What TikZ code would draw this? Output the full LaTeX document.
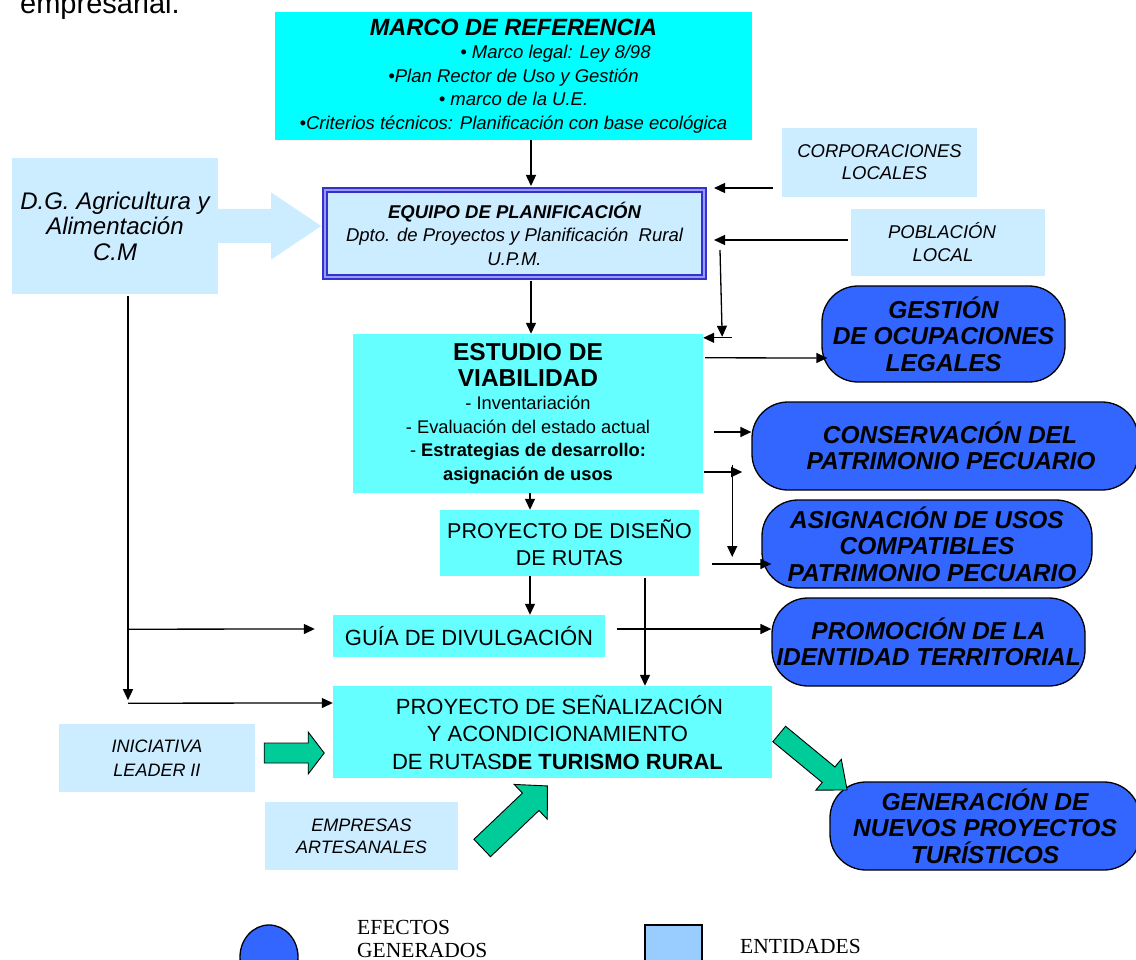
\documentclass[tikz,border=0pt]{standalone}
\usepackage{fontspec}
\setmainfont{Liberation Sans}
\newfontfamily\legfont{Liberation Serif}
\usetikzlibrary{arrows.meta,calc,shapes.geometric}

\definecolor{marcocyan}{HTML}{00FFFF}
\definecolor{procyan}{HTML}{66FFFF}
\definecolor{entblue}{HTML}{CCECFF}
\definecolor{efblue}{HTML}{3366FF}
\definecolor{frameblue}{HTML}{3333CC}
\definecolor{framelight}{HTML}{9999FF}
\definecolor{arrowgreen}{HTML}{00CC99}
\definecolor{legblue}{HTML}{99CCFF}

\tikzset{
    entidad/.style={fill=entblue, inner sep=0pt, align=center},
    proceso/.style={fill=procyan, inner sep=0pt, align=center},
    efecto/.style={draw=black, line width=1.3pt, fill=efblue, rounded corners=36pt,
        inner sep=0pt, align=center, font=\bfseries\itshape\fontsize{24.5}{26.5}\selectfont},
    flecha/.style={-{Triangle[length=11pt,width=10pt]}, line width=1.3pt},
    bloque/.style={fill=arrowgreen, draw=black, line width=0.9pt, line join=miter},
}

\begin{document}
\begin{tikzpicture}[x=1pt, y=-1pt]
    \useasboundingbox (0,0) rectangle (1136,960);
    \clip (0,0) rectangle (1136,960);

    % end of the text above
    \node[anchor=base west, inner sep=0pt, font=\fontsize{29}{34}\selectfont] (resto) at (20,14) {empresarial.};

    % boxes
    \node[proceso, fill=marcocyan, minimum width=477pt, minimum height=128pt,
        font=\itshape\fontsize{18.5}{23.5}\selectfont] (marco) at (513.5,76)
        {{\fontsize{23.5}{26}\selectfont\bfseries MARCO DE REFERENCIA}\\
         \hspace*{84pt}• Marco legal: Ley 8/98\\
         •Plan Rector de Uso y Gestión\\
         • marco de la U.E.\\
         •Criterios técnicos: Planificación con base ecológica};
    \node[entidad, draw=frameblue, double=framelight, double distance=2.5pt, line width=2pt,
        minimum width=379pt, minimum height=87pt,
        font=\itshape\fontsize{18.5}{23.5}\selectfont] (equipo) at (514.5,233.5)
        {{\bfseries EQUIPO DE PLANIFICACIÓN}\\
         Dpto. de Proyectos y Planificación\ \ Rural\\
         U.P.M.};
    \node[entidad, minimum width=206pt, minimum height=136pt,
        font=\itshape\fontsize{24}{25.5}\selectfont] (dg) at (115,226)
        {D.G. Agricultura y\\Alimentación\\C.M};
    \node[entidad, minimum width=195pt, minimum height=69pt,
        font=\itshape\fontsize{18.5}{22}\selectfont] (corp) at (879.5,162.5)
        {CORPORACIONES\\\hspace*{10pt}LOCALES};
    \node[entidad, minimum width=194pt, minimum height=67pt,
        font=\itshape\fontsize{18.5}{23}\selectfont] (pobl) at (948,242.5)
        {POBLACIÓN\hspace*{12pt}\\LOCAL\hspace*{10pt}};
    \node[proceso, minimum width=350pt, minimum height=159pt,
        font=\fontsize{18.3}{23.5}\selectfont] (estudio) at (528,413.5)
        {{\fontsize{24.5}{26}\selectfont\bfseries ESTUDIO DE}\\[2.5pt]
         {\fontsize{24.5}{26}\selectfont\bfseries VIABILIDAD}\\
         - Inventariación\\
         - Evaluación del estado actual\\
         - \textbf{Estrategias de desarrollo:}\\
         \textbf{asignación de usos}};
    \node[proceso, minimum width=259pt, minimum height=66pt,
        font=\fontsize{21.5}{27}\selectfont] (diseno) at (569.5,543)
        {PROYECTO DE DISEÑO\\DE RUTAS};
    \node[proceso, minimum width=272pt, minimum height=42pt,
        font=\fontsize{22}{24}\selectfont] (guia) at (469,636)
        {GUÍA DE DIVULGACIÓN};
    \node[proceso, minimum width=439pt, minimum height=92pt,
        font=\fontsize{22}{27.5}\selectfont] (senal) at (552.5,732)
        {\hspace*{14pt}PROYECTO DE SEÑALIZACIÓN\\\hspace*{10pt}Y ACONDICIONAMIENTO\\\hspace*{10pt}DE RUTAS\textbf{DE TURISMO RURAL}};
    \node[entidad, minimum width=196pt, minimum height=68pt,
        font=\itshape\fontsize{18}{24}\selectfont] (leader) at (157,758)
        {INICIATIVA\\LEADER II};
    \node[entidad, minimum width=193pt, minimum height=68pt,
        font=\itshape\fontsize{18}{22}\selectfont] (empresas) at (361.5,836)
        {EMPRESAS\\ARTESANALES};

    % effects
    \node[efecto, minimum width=243pt, minimum height=96pt] (gestion) at (943.5,334)
        {GESTIÓN\\DE OCUPACIONES\\LEGALES};
    \node[efecto, minimum width=386pt, minimum height=88pt] (conserv) at (945,446)
        {\hspace*{10pt}CONSERVACIÓN DEL\\\hspace*{12pt}PATRIMONIO PECUARIO};
    \node[efecto, minimum width=330pt, minimum height=88pt] (asign) at (927,544)
        {ASIGNACIÓN DE USOS\\COMPATIBLES\\\hspace*{10pt}PATRIMONIO PECUARIO};
    \node[efecto, minimum width=313pt, minimum height=88pt] (promo) at (928.5,642)
        {PROMOCIÓN DE LA\\IDENTIDAD TERRITORIAL};
    \node[efecto, minimum width=310pt, minimum height=88pt] (gener) at (985,826)
        {GENERACIÓN DE\\NUEVOS PROYECTOS\\TURÍSTICOS};

    % thin arrows
    \draw[flecha] ($(marco.south)+(17.5,0)$) -- ($(equipo.north)+(16.5,-3)$);
    \draw[flecha] ($(corp.west)+(-9,25.5)$) -- ($(equipo.east)+(9,-45.5)$);
    \draw[flecha] ($(pobl.west)+(-3,-2.5)$) -- ($(equipo.east)+(9,6.5)$);
    \draw[flecha] ($(equipo.east)+(15,16.5)$) -- ($(estudio.north east)+(19,3)$);
    \draw[flecha] ($(estudio.north east)+(29,4)$) -- ($(estudio.north east)+(0,4)$);
    \draw[flecha] ($(equipo.south)+(16.5,3)$) -- ($(estudio.north)+(3,0)$);
    \draw[flecha] ($(estudio.north east)+(2,24)$) -- ($(gestion.west)+(6,24)$);
    \draw[flecha] ($(estudio.east)+(11,18.5)$) -- ($(conserv.west)+(0,-14)$);
    \draw[flecha] ($(estudio.east)+(1,58.5)$) -- ($(estudio.east)+(39,58.5)$);
    \draw[flecha] ($(estudio.east)+(29,51.5)$) -- ($(diseno.east)+(33,14)$);
    \draw[flecha] ($(diseno.east)+(13,21)$) -- ($(asign.west)+(10,20)$);
    \draw[flecha] ($(estudio.south)+(2,0)$) -- ($(diseno.north)+(-39.5,0)$);
    \draw[flecha] ($(diseno.south)+(-39.5,0)$) -- ($(guia.north)+(61,0)$);
    \draw[flecha] ($(diseno.south)+(75.5,2)$) -- ($(senal.north)+(92.5,0)$);
    \draw[flecha] ($(guia.east)+(12,-7)$) -- ($(promo.west)+(0,-13)$);
    \draw[flecha] ($(dg.south)+(13,2)$) -- ($(dg.south)+(13,406)$);
    \draw[flecha] ($(dg.south)+(13,409)$) -- ($(senal.west)+(0,-29)$);
    \draw[flecha] ($(dg.south)+(13,335)$) -- ($(guia.west)+(-18,-7)$);

    % block arrows
    \fill[entblue] ($(dg.east)+(-1,-17)$) -- ++(54,0) -- ++(0,-16.5) -- ++(50,33.5)
        -- ++(-50,33.5) -- ++(0,-16.5) -- ++(-54,0) -- cycle;
    \begin{scope}[shift={($(leader.east)+(9,-5)$)}]
        \draw[bloque] (0,-10) -- (44,-10) -- (44,-21) -- (60,0) -- (44,21) -- (44,10) -- (0,10) -- cycle;
    \end{scope}
    \begin{scope}[shift={($(empresas.east)+(24,12)$)}, rotate=43.6]
        \draw[bloque] (0,-12) -- (67,-12) -- (67,-24) -- (90,0) -- (67,24) -- (67,12) -- (0,12) -- cycle;
    \end{scope}
    \begin{scope}[shift={($(senal.east)+(7,2)$)}, rotate=-39.5]
        \draw[bloque] (0,-10) -- (64,-10) -- (64,-20) -- (88,0) -- (64,20) -- (64,10) -- (0,10) -- cycle;
    \end{scope}

    % legend
    \node[ellipse, draw=black, line width=1.3pt, fill=efblue, minimum width=58pt, minimum height=64pt] (legefecto) at (269,957) {};
    \node[anchor=north west, inner sep=0pt, align=left, font=\legfont\fontsize{21.5}{23}\selectfont] (legefectotxt) at (357,920) {EFECTOS\\GENERADOS};
    \node[draw=black, line width=1.3pt, fill=legblue, minimum width=57pt, minimum height=62pt, inner sep=0pt] (legentidad) at (673.5,956) {};
    \node[anchor=west, inner sep=0pt, font=\legfont\fontsize{21.5}{23}\selectfont] (legentidadtxt) at (740,946) {ENTIDADES};
\end{tikzpicture}
\end{document}
